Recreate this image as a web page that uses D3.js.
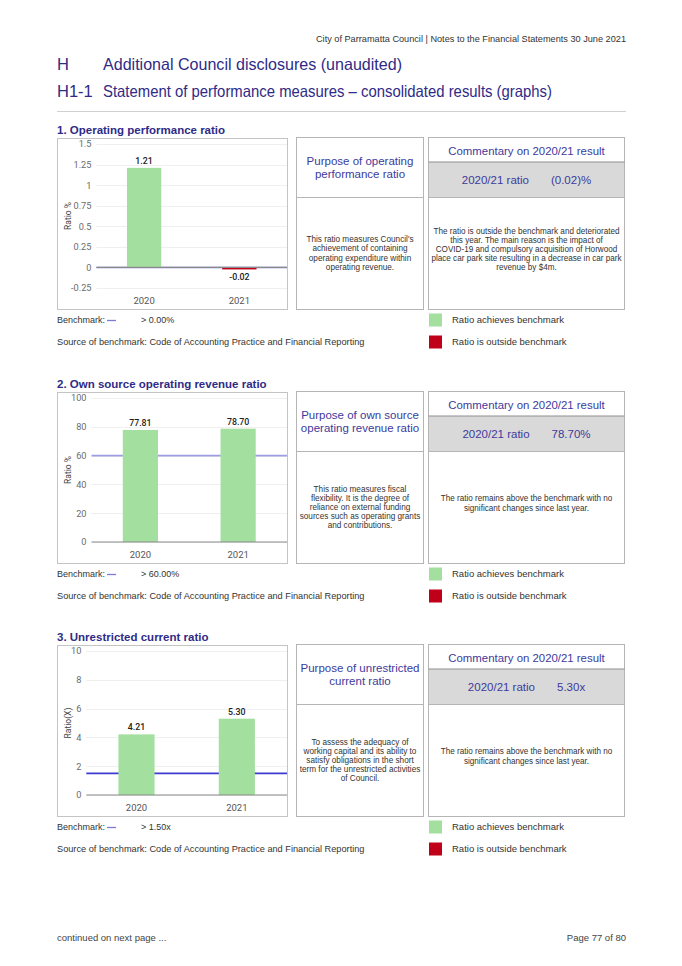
<!DOCTYPE html>
<html><head><meta charset="utf-8">
<script src="https://cdn.jsdelivr.net/npm/d3@7"></script>
<style>
html,body{margin:0;padding:0;background:#fff;}
svg{display:block;}
</style></head>
<body>
<script>
// ---------- data ----------
const years = ["2020", "2021"];
const operatingRatio = [1.21, -0.02];
const ownSourceRatio = [77.81, 78.70];
const unrestrictedRatio = [4.21, 5.30];
const operatingTicks = [-0.25, 0, 0.25, 0.5, 0.75, 1, 1.25, 1.5];
const ownSourceTicks = [0, 20, 40, 60, 80, 100];
const unrestrictedTicks = [0, 2, 4, 6, 8, 10];
const benchmarkValues = [0, 60, 1.5];
const benchmarkLabels = ["> 0.00%", "> 60.00%", "> 1.50x"];
const sectionTitles = ["1. Operating performance ratio", "2. Own source operating revenue ratio", "3. Unrestricted current ratio"];
const axisTitles = ["Ratio %", "Ratio %", "Ratio(X)"];
const purposeTitles = [
  ["Purpose of operating", "performance ratio"],
  ["Purpose of own source", "operating revenue ratio"],
  ["Purpose of unrestricted", "current ratio"]
];
const purposeTexts = [
  ["This ratio measures Council's", "achievement of containing", "operating expenditure within", "operating revenue."],
  ["This ratio measures fiscal", "flexibility. It is the degree of", "reliance on external funding", "sources such as operating grants", "and contributions."],
  ["To assess the adequacy of", "working capital and its ability to", "satisfy obligations in the short", "term for the unrestricted activities", "of Council."]
];
const resultValues = ["(0.02)%", "78.70%", "5.30x"];
const commentaryTexts = [
  ["The ratio is outside the benchmark and deteriorated", "this year. The main reason is the impact of", "COVID-19 and compulsory acquisition of Horwood", "place car park site resulting in a decrease in car park", "revenue by $4m."],
  ["The ratio remains above the benchmark with no", "significant changes since last year."],
  ["The ratio remains above the benchmark with no", "significant changes since last year."]
];
const seriesList = [operatingRatio, ownSourceRatio, unrestrictedRatio];
const tickList = [operatingTicks, ownSourceTicks, unrestrictedTicks];

// ---------- styles ----------
const W = 682, H = 966;
const HEAD = "#2f2b86", SUB = "#3d3a9c";
const GREEN = "#a3df9f", RED = "#c00018";
const benchColors = ["#7b7bd6", "#9d9de2", "#3b3bd2"];
const PAGE_FONT = "'Liberation Sans', Arial, sans-serif";
const CHART_FONT = "Roboto, 'Open Sans', sans-serif";
const sectionTops = [137, 391, 644];

const svg = d3.select("body").append("svg").attr("width", W).attr("height", H)
  .style("background", "#fff");

// ---------- page header ----------
svg.append("text").attr("x", 626).attr("y", 42).attr("text-anchor", "end")
  .attr("font-family", PAGE_FONT).attr("font-size", 9.8).attr("fill", "#333")
  .attr("textLength", 310).attr("lengthAdjust", "spacingAndGlyphs")
  .text("City of Parramatta Council | Notes to the Financial Statements 30 June 2021");
[["H", "Additional Council disclosures (unaudited)", 70, 299], ["H1-1", "Statement of performance measures \u2013 consolidated results (graphs)", 97, 449]]
  .forEach(([a, b, y, len]) => {
    svg.append("text").attr("x", 57).attr("y", y).attr("font-family", PAGE_FONT)
      .attr("font-size", 16.5).attr("fill", HEAD).text(a);
    svg.append("text").attr("x", 103).attr("y", y).attr("font-family", PAGE_FONT)
      .attr("font-size", 16.5).attr("fill", HEAD)
      .attr("textLength", len).attr("lengthAdjust", "spacingAndGlyphs").text(b);
  });
svg.append("line").attr("x1", 57).attr("x2", 626).attr("y1", 111.5).attr("y2", 111.5)
  .attr("stroke", "#d0d0d0").attr("stroke-width", 1);

// ---------- sections ----------
sectionTops.forEach((T, i) => {
  const g = svg.append("g");
  g.append("text").attr("x", 57).attr("y", T - 3).attr("font-family", PAGE_FONT)
    .attr("font-size", 11.5).attr("font-weight", "bold").attr("fill", HEAD).text(sectionTitles[i]);

  // chart box
  g.append("rect").attr("x", 57.5).attr("y", T + 1.5).attr("width", 230).attr("height", 171)
    .attr("fill", "#fff").attr("stroke", "#c4c4c4");

  const ticks = tickList[i];
  const vals = seriesList[i];
  const bench = benchmarkValues[i];
  // measure tick widths
  const tmp = g.append("g").attr("font-family", CHART_FONT).attr("font-size", 9.2);
  let maxW = 0;
  ticks.forEach(t => { const n = tmp.append("text").text(String(t)).node(); maxW = Math.max(maxW, n.getComputedTextLength()); });
  tmp.remove();
  const labelLeft = 71;
  const plotL = labelLeft + maxW + 5, plotR = 287;
  const y = d3.scaleLinear().domain([d3.min(ticks), d3.max(ticks)]).range([T + 151, T + 7]);
  const x = d3.scaleBand().domain(years).range([plotL, plotR]).paddingInner(0.64).paddingOuter(0.32);

  // gridlines
  g.append("g").selectAll("line").data(ticks).join("line")
    .attr("x1", plotL).attr("x2", plotR)
    .attr("y1", d => Math.round(y(d)) + 0.5).attr("y2", d => Math.round(y(d)) + 0.5)
    .attr("stroke", "#efefef");
  // y axis labels
  const yAxis = d3.axisLeft(y).tickValues(ticks).tickFormat(d => String(d)).tickSize(0).tickPadding(5);
  const ya = g.append("g").attr("transform", `translate(${plotL},0)`).call(yAxis);
  ya.select(".domain").remove();
  ya.selectAll("text").attr("font-family", CHART_FONT).attr("font-size", 9.2).attr("fill", "#6b6b6b");
  // y title
  g.append("text").attr("transform", `translate(71,${(y.range()[0] + y.range()[1]) / 2}) rotate(-90)`)
    .attr("text-anchor", "middle").attr("font-family", CHART_FONT).attr("font-size", 8.5)
    .attr("fill", "#444").text(axisTitles[i]);

  // benchmark line
  g.append("line").attr("x1", plotL).attr("x2", plotR).attr("y1", y(bench)).attr("y2", y(bench))
    .attr("stroke", benchColors[i]).attr("stroke-width", 1.6);

  // bars
  g.append("g").selectAll("rect").data(vals).join("rect")
    .attr("x", (d, j) => x(years[j])).attr("width", x.bandwidth())
    .attr("y", d => y(Math.max(0, d))).attr("height", d => Math.max(2, Math.abs(y(d) - y(0))))
    .attr("fill", d => d > bench ? GREEN : RED);

  // zero axis line
  g.append("line").attr("x1", plotL).attr("x2", plotR).attr("y1", y(0)).attr("y2", y(0))
    .attr("stroke", "#8a8a8a").attr("stroke-width", 1.2);

  // value labels
  g.append("g").selectAll("text").data(vals).join("text")
    .attr("x", (d, j) => x(years[j]) + x.bandwidth() / 2)
    .attr("y", d => d >= 0 ? y(d) - 4 : y(0) + 13)
    .attr("text-anchor", "middle").attr("font-family", CHART_FONT).attr("font-size", 8.8)
    .attr("font-weight", 500).attr("fill", "#222").text(d => d.toFixed(2));

  // x axis labels
  const xAxis = d3.axisBottom(x).tickSize(0).tickPadding(9);
  const xa = g.append("g").attr("transform", `translate(0,${T + 151})`).call(xAxis);
  xa.select(".domain").remove();
  xa.selectAll("text").attr("font-family", CHART_FONT).attr("font-size", 9.5).attr("fill", "#555");

  // purpose box
  const pb = g.append("g");
  pb.append("rect").attr("x", 296.5).attr("y", T + 0.5).attr("width", 127).attr("height", 172)
    .attr("fill", "#fff").attr("stroke", "#b5b5b5");
  pb.append("line").attr("x1", 296.5).attr("x2", 423.5).attr("y1", T + 60.5).attr("y2", T + 60.5).attr("stroke", "#b5b5b5");
  const pt = purposeTitles[i];
  pt.forEach((s, k) => pb.append("text").attr("x", 360).attr("y", T + 30 - (pt.length - 1) * 6.25 + k * 12.5 + 4.3)
    .attr("text-anchor", "middle").attr("font-family", PAGE_FONT).attr("font-size", 11.5).attr("fill", SUB).text(s));
  const ptx = purposeTexts[i];
  const midP = T + 116;
  ptx.forEach((s, k) => pb.append("text").attr("x", 360).attr("y", midP - (ptx.length - 1) * 4.6 + k * 9.2 + 3)
    .attr("text-anchor", "middle").attr("font-family", PAGE_FONT).attr("font-size", 8.2).attr("fill", "#333").text(s));

  // commentary box
  const cb = g.append("g");
  cb.append("rect").attr("x", 428.5).attr("y", T + 25).attr("width", 196).attr("height", 35).attr("fill", "#d9d9d9");
  cb.append("rect").attr("x", 428.5).attr("y", T + 0.5).attr("width", 196).attr("height", 172)
    .attr("fill", "none").attr("stroke", "#b5b5b5");
  cb.append("line").attr("x1", 428.5).attr("x2", 624.5).attr("y1", T + 25).attr("y2", T + 25).attr("stroke", "#8f8f8f").attr("stroke-width", 1.2);
  cb.append("line").attr("x1", 428.5).attr("x2", 624.5).attr("y1", T + 60.5).attr("y2", T + 60.5).attr("stroke", "#b5b5b5");
  cb.append("text").attr("x", 526.5).attr("y", T + 18).attr("text-anchor", "middle")
    .attr("font-family", PAGE_FONT).attr("font-size", 11.4).attr("fill", SUB).text("Commentary on 2020/21 result");
  const rt = cb.append("text").attr("x", 526.5).attr("y", T + 47).attr("text-anchor", "middle")
    .attr("font-family", PAGE_FONT).attr("font-size", 11.5).attr("fill", SUB);
  rt.append("tspan").text("2020/21 ratio");
  rt.append("tspan").attr("dx", 22).text(resultValues[i]);
  const ctx = commentaryTexts[i];
  const midC = T + 112;
  ctx.forEach((s, k) => cb.append("text").attr("x", 526.5).attr("y", midC - (ctx.length - 1) * 4.6 + k * 9.2 + 3)
    .attr("text-anchor", "middle").attr("font-family", PAGE_FONT).attr("font-size", 8.15).attr("fill", "#333").text(s));

  // legend rows
  const ly1 = T + 183, ly2 = T + 205;
  g.append("text").attr("x", 57).attr("y", ly1 + 3.3).attr("font-family", PAGE_FONT).attr("font-size", 9).attr("fill", "#333").text("Benchmark:");
  g.append("line").attr("x1", 107).attr("x2", 116).attr("y1", ly1 + 0.5).attr("y2", ly1 + 0.5).attr("stroke", benchColors[0]).attr("stroke-width", 1.3);
  g.append("text").attr("x", 141).attr("y", ly1 + 3.3).attr("font-family", PAGE_FONT).attr("font-size", 9).attr("fill", "#333").text(benchmarkLabels[i]);
  g.append("text").attr("x", 57).attr("y", ly2 + 3.3).attr("font-family", PAGE_FONT).attr("font-size", 9.2).attr("fill", "#333")
    .text("Source of benchmark: Code of Accounting Practice and Financial Reporting");
  g.append("rect").attr("x", 429).attr("y", ly1 - 6.5).attr("width", 13).attr("height", 13).attr("fill", GREEN);
  g.append("rect").attr("x", 429).attr("y", ly2 - 6.5).attr("width", 13).attr("height", 13).attr("fill", RED);
  g.append("text").attr("x", 452).attr("y", ly1 + 3.3).attr("font-family", PAGE_FONT).attr("font-size", 9.5).attr("fill", "#333").text("Ratio achieves benchmark");
  g.append("text").attr("x", 452).attr("y", ly2 + 3.3).attr("font-family", PAGE_FONT).attr("font-size", 9.5).attr("fill", "#333").text("Ratio is outside benchmark");
});

// ---------- footer ----------
svg.append("text").attr("x", 57).attr("y", 941).attr("font-family", PAGE_FONT).attr("font-size", 9.5).attr("fill", "#444").text("continued on next page ...");
svg.append("text").attr("x", 626).attr("y", 941).attr("text-anchor", "end").attr("font-family", PAGE_FONT).attr("font-size", 9.5).attr("fill", "#444").text("Page 77 of 80");
</script>
</body></html>
